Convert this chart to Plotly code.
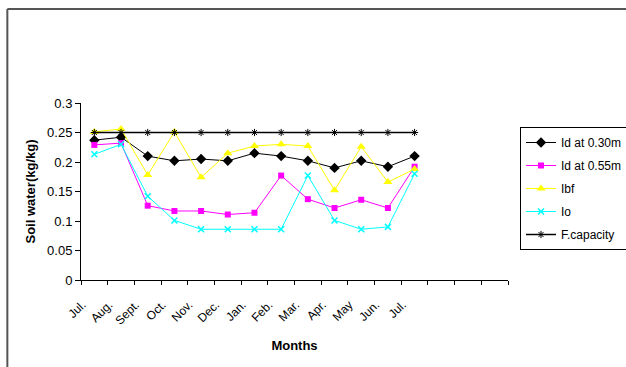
import plotly.graph_objects as go

# Monthly soil water content (kg/kg), July to July
months = ["Jul.", "Aug.", "Sept.", "Oct.", "Nov.", "Dec.", "Jan.",
          "Feb.", "Mar.", "Apr.", "May", "Jun.", "Jul."]
id_030 = [0.237, 0.242, 0.21, 0.202, 0.205, 0.202, 0.215,
          0.21, 0.202, 0.19, 0.202, 0.192, 0.21]
id_055 = [0.229, 0.232, 0.126, 0.117, 0.117, 0.111, 0.114,
          0.177, 0.137, 0.122, 0.136, 0.122, 0.192]
ibf = [0.251, 0.256, 0.178, 0.251, 0.174, 0.215, 0.227,
       0.23, 0.227, 0.152, 0.226, 0.166, 0.188]
io = [0.213, 0.23, 0.142, 0.101, 0.086, 0.086, 0.086,
      0.086, 0.177, 0.101, 0.086, 0.09, 0.18]
field_capacity = [0.25] * 13

n_slots = 16  # category slots on the month axis (last three empty)
x = list(range(len(months)))

series = [
    ("Id at 0.30m", id_030, "black", dict(symbol="diamond", size=8, color="black")),
    ("Id at 0.55m", id_055, "#FF00FF", dict(symbol="square", size=6, color="#FF00FF")),
    ("Ibf", ibf, "#FFFF00", dict(symbol="triangle-up", size=8, color="#FFFF00")),
    ("Io", io, "#00FFFF", dict(symbol="x-thin", size=6, color="#00FFFF",
                                line=dict(width=1.5, color="#00FFFF"))),
    ("F.capacity", field_capacity, "black", dict(symbol="asterisk", size=6, color="black",
                                                 line=dict(width=1, color="black"))),
]

fig = go.Figure()
for i, (name, vals, col, mk) in enumerate(series):
    fig.add_trace(go.Scatter(
        x=x, y=vals, name=name, mode="lines+markers",
        line=dict(color=col, width=1.5 if name == "F.capacity" else 1),
        marker=mk, legendgroup=str(i),
    ))

font = "Liberation Sans, Arial, sans-serif"
L, R, T, B = 81, 116, 103, 87
W, H = 626, 367
pw, ph = W - L - R, H - T - B

fig.update_layout(
    width=W, height=H,
    margin=dict(l=L, r=R, t=T, b=B, pad=0),
    paper_bgcolor="white", plot_bgcolor="white",
    font=dict(family=font, size=12, color="black"),
    showlegend=True,
    legend=dict(
        xref="container", yref="container",
        x=520 / W, y=1 - 127 / H, xanchor="left", yanchor="top",
        bordercolor="black", borderwidth=1, bgcolor="white",
        font=dict(family=font, size=12, color="black"),
        traceorder="grouped", tracegroupgap=4,
    ),
    xaxis=dict(
        range=[-0.5, n_slots - 0.5],
        tickmode="array", tickvals=x, ticktext=months, tickangle=-45,
        ticks="", showgrid=False, zeroline=False,
        showline=True, linecolor="black", linewidth=1,
        tickfont=dict(family=font, size=12, color="black"),
        ticklabelstandoff=12, ticklabelshift=-12,
        minor=dict(tickmode="linear", tick0=-0.5, dtick=1, ticks="outside",
                   ticklen=4, tickcolor="black", showgrid=False),
        title=dict(text="<b>Months</b>", font=dict(family=font, size=13), standoff=14),
    ),
    yaxis=dict(
        range=[0, 0.3], dtick=0.05, tick0=0,
        ticks="outside", ticklen=5, tickcolor="black",
        showgrid=False, zeroline=False,
        showline=True, linecolor="black", linewidth=1,
        tickfont=dict(family=font, size=13, color="black"),
        title=dict(text="<b>Soil water(kg/kg)</b>", font=dict(family=font, size=13), standoff=8),
    ),
)

# Outer frame: top and left edges of the chart area
def px_x(p):
    return (p - L) / pw

def px_y(p):
    return (H - B - p) / ph

for x0, y0, x1, y1 in [(7, 9, W + 5, 9), (7, 9, 7, H + 5)]:
    fig.add_shape(type="line", xref="paper", yref="paper",
                  x0=px_x(x0), y0=px_y(y0), x1=px_x(x1), y1=px_y(y1),
                  line=dict(color="#555555", width=2), layer="above")

fig.write_html("out.html")
